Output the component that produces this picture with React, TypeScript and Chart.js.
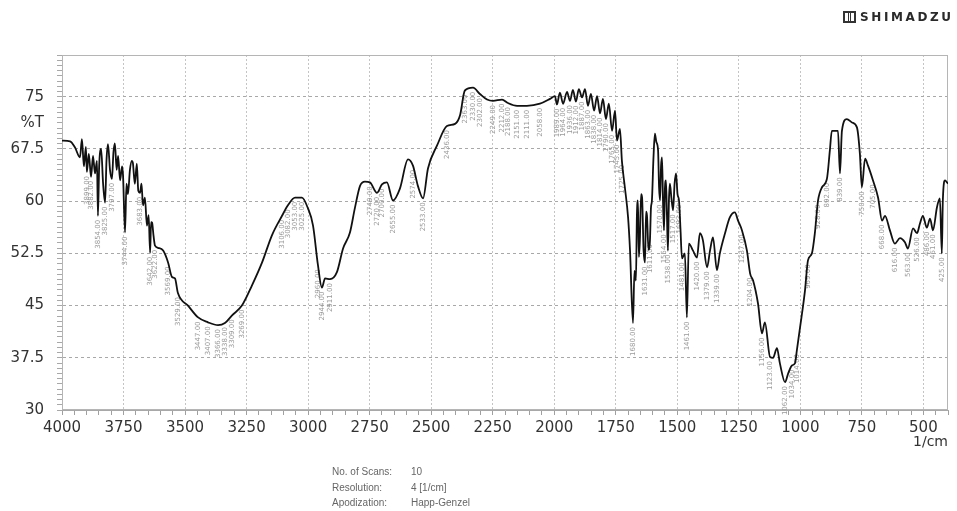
import React, { useEffect, useRef } from 'react';
import { Chart, registerables } from 'chart.js';

Chart.register(...registerables);

// ---- Data ----
const wavenumbers = [
  4000, 3967, 3947, 3927, 3919, 3911, 3903, 3899, 3891, 3882, 3874, 3866, 3858, 3854, 3849, 3841,
  3833, 3825, 3819, 3813, 3805, 3797, 3791, 3785, 3778, 3772, 3764, 3756, 3752, 3744, 3738, 3732,
  3724, 3716, 3712, 3704, 3696, 3690, 3683, 3677, 3671, 3663, 3655, 3648, 3642, 3638, 3634, 3628,
  3622, 3610, 3589, 3569, 3553, 3541,
  3529, 3488, 3447, 3407, 3366, 3338, 3309, 3269, 3228, 3187, 3147, 3106, 3082, 3053, 3025, 3001,
  2980, 2960, 2944, 2931, 2911, 2883, 2858, 2830, 2810, 2789, 2769, 2749, 2720, 2700, 2680, 2655,
  2627, 2594, 2574, 2554, 2533, 2513, 2476, 2436, 2403, 2383, 2363, 2330, 2302, 2273, 2249, 2212,
  2188, 2151, 2111, 2058, 2017, 1997, 1989, 1977, 1964, 1948, 1936, 1924, 1912, 1900, 1887, 1875,
  1863, 1851, 1838, 1826, 1814, 1802, 1790, 1778, 1765, 1753, 1745, 1733, 1725, 1713, 1700, 1692,
  1680, 1674, 1668, 1664, 1660, 1656, 1652, 1647, 1643, 1637, 1631, 1627, 1623, 1617, 1611, 1607,
  1603, 1597, 1591, 1585, 1578, 1574, 1570, 1566, 1562, 1558, 1554, 1550, 1546, 1542, 1538, 1534,
  1530, 1524, 1517, 1511, 1505, 1499, 1493, 1487, 1481, 1469, 1461, 1453, 1436, 1420, 1408, 1396,
  1379, 1367, 1355, 1339,
  1327, 1306, 1286, 1266, 1253, 1237, 1217, 1204, 1192, 1172, 1156, 1144, 1123, 1111, 1095, 1083,
  1062, 1050, 1034, 1022, 1014, 1001, 981, 969, 953, 941, 928, 912, 892, 880, 872, 847,
  839, 831, 811, 790, 770, 758, 750, 737, 725, 705, 684, 668, 656, 636, 616, 595,
  575, 563, 542, 526, 514, 502, 486, 473, 461, 445, 433, 425, 421, 412, 404, 400,
];

const transmittance = [
  68.7, 68.6, 67.7, 66.3, 68.9, 65.0, 67.8, 64.2, 66.8, 63.5, 66.5, 64.0, 65.8, 57.9, 65.0, 67.5,
  62.5, 59.8, 66.0, 68.2, 64.5, 63.2, 67.0, 68.3, 64.5, 66.5, 63.0, 65.0, 63.7, 55.5, 62.5, 61.0,
  64.5, 65.8, 65.5, 62.5, 65.4, 61.5, 61.2, 62.5, 59.4, 60.5, 56.5, 58.0, 52.6, 57.0, 56.9, 55.0,
  53.6, 53.3, 52.9, 51.2, 49.1, 48.9,
  46.8, 45.0, 43.3, 42.6, 42.2, 42.5, 43.6, 45.0, 47.9, 51.2, 55.1, 57.9, 59.4, 60.5, 60.5, 59.0,
  56.5, 50.8, 47.6, 48.9, 48.8, 49.8, 53.2, 55.5, 59.0, 62.2, 62.8, 62.7, 61.2, 62.4, 62.7, 60.1,
  61.8, 66.0, 65.1, 62.2, 60.4, 64.7, 68.0, 70.8, 71.1, 72.3, 75.9, 76.3, 75.4, 74.6, 74.4, 74.6,
  74.1, 73.7, 73.7, 74.0, 74.7, 75.1, 73.9, 75.6, 74.0, 75.7, 74.4, 76.0, 74.3, 76.1, 74.9, 76.1,
  73.7, 75.4, 73.0, 75.1, 72.6, 74.7, 71.8, 74.0, 70.1, 73.0, 68.7, 70.4, 65.8, 62.0, 57.7, 52.9,
  42.5, 50.0, 48.6, 58.0, 60.1, 52.0, 54.4, 61.0, 60.5, 53.0, 51.2, 58.5, 57.9, 53.0, 54.4, 59.0,
  60.1, 66.0, 69.7, 68.5, 67.3, 62.0, 60.1, 65.0, 66.3, 60.0, 55.8, 62.0, 63.0, 58.0, 52.9, 60.0,
  62.5, 60.5, 58.7, 62.5, 64.0, 61.0, 60.1, 56.0, 51.8, 52.5, 43.3, 53.9, 52.9, 51.9, 55.4, 54.4,
  50.5, 52.9, 54.8, 50.1,
  52.5, 55.4, 57.7, 58.4, 57.2, 55.8, 52.9, 49.6, 48.6, 45.3, 41.0, 42.6, 37.6, 37.5, 38.9, 36.7,
  34.0, 35.2, 36.4, 36.7, 38.6, 41.9, 47.2, 51.5, 52.5, 55.4, 60.1, 62.0, 63.2, 67.3, 70.1, 70.1,
  64.0, 70.1, 71.8, 71.3, 70.6, 66.8, 62.0, 66.1, 65.1, 63.0, 60.5, 57.2, 57.9, 55.8, 53.9, 54.7,
  54.1, 53.2, 56.1, 55.4, 56.8, 57.9, 56.2, 57.5, 55.8, 59.1, 60.4, 52.5, 60.1, 63.0, 62.7, 62.5,
];

// Peak picks labelled by the instrument software (wavenumbers, 1/cm)
const peakWavenumbers = [
  3899, 3882, 3854, 3825, 3797, 3744, 3683, 3642, 3622, 3569, 3529, 3447, 3407, 3366, 3338, 3309,
  3269, 3106, 3082, 3053, 3025, 2960, 2944, 2911, 2749, 2720, 2700, 2655, 2574, 2533, 2436, 2363,
  2330, 2302, 2249, 2212, 2188, 2151, 2111, 2058, 1989, 1964, 1936, 1912, 1887, 1863, 1838, 1814,
  1790, 1765, 1745, 1725, 1680, 1631, 1611, 1570, 1554, 1538, 1517, 1493, 1481, 1461, 1420, 1379,
  1339, 1237, 1204, 1156, 1123, 1062, 1034, 1014, 969, 928, 892, 839, 750, 705, 668, 616,
  563, 526, 486, 461, 425,
];

const xMajorTicks = [4000, 3750, 3500, 3250, 3000, 2750, 2500, 2250, 2000, 1750, 1500, 1250, 1000, 750, 500];
const yMajorTicks = [30, 37.5, 45, 52.5, 60, 67.5, 75];
const yUnitLabel = '%T';
const yUnitPosition = 71.25;
const xUnitLabel = '1/cm';
const scanInfoLabels = ['No. of Scans:', 'Resolution:', 'Apodization:'];
const scanInfoValues = ['10', '4 [1/cm]', 'Happ-Genzel'];
const brandName = 'SHIMADZU';

const X_MIN = 400;
const X_MAX = 4000;
const Y_MIN = 30;
const Y_MAX = 81;

const near = (a: number, b: number) => Math.abs(a - b) < 1e-6;

const framePlugin = {
  id: 'frame',
  beforeDatasetsDraw(chart: any) {
    const { ctx, chartArea } = chart;
    ctx.save();
    ctx.strokeStyle = '#b5b5b5';
    ctx.lineWidth = 1;
    ctx.strokeRect(chartArea.left + 0.5, chartArea.top + 0.5, chartArea.right - chartArea.left - 1, chartArea.bottom - chartArea.top - 1);
    ctx.restore();
  },
};

const peakLabelPlugin = {
  id: 'peakLabels',
  beforeDatasetsDraw(chart: any) {
    const { ctx } = chart;
    const xs = chart.scales.x;
    const ys = chart.scales.y;
    ctx.save();
    ctx.font = '7px "DejaVu Sans"';
    ctx.fillStyle = '#9a9a9a';
    ctx.textAlign = 'right';
    ctx.textBaseline = 'middle';
    peakWavenumbers.forEach((w) => {
      const idx = wavenumbers.indexOf(w);
      if (idx < 0) return;
      const px = xs.getPixelForValue(w);
      const py = ys.getPixelForValue(transmittance[idx]);
      ctx.save();
      ctx.translate(px, py + 4);
      ctx.rotate(-Math.PI / 2);
      ctx.fillText(w.toFixed(2), 0, 0);
      ctx.restore();
    });
    ctx.restore();
  },
};

export default function App() {
  const canvasRef = useRef<HTMLCanvasElement | null>(null);

  useEffect(() => {
    document.body.style.margin = '0';
    const canvas = canvasRef.current;
    if (!canvas) return;

    const xTickValues: number[] = [];
    for (let v = X_MAX; v >= X_MIN; v -= 50) xTickValues.push(v);
    const yTickValues: number[] = [];
    for (let i = 0; Y_MIN + i * 0.75 <= Y_MAX + 1e-9; i++) yTickValues.push(Math.round((Y_MIN + i * 0.75) * 100) / 100);

    const chart = new Chart(canvas, {
      type: 'line',
      data: {
        datasets: [
          {
            data: wavenumbers.map((w, i) => ({ x: w, y: transmittance[i] })),
            borderColor: '#111111',
            borderWidth: 1.8,
            pointRadius: 0,
            fill: false,
            cubicInterpolationMode: 'monotone',
          },
        ],
      },
      options: {
        responsive: false,
        animation: false,
        maintainAspectRatio: false,
        layout: { padding: { left: 0, right: 9, top: 55, bottom: 71 } },
        plugins: { legend: { display: false }, tooltip: { enabled: false } },
        scales: {
          x: {
            type: 'linear',
            reverse: true,
            min: X_MIN,
            max: X_MAX,
            afterBuildTicks: (scale: any) => {
              scale.ticks = xTickValues.map((v) => ({ value: v }));
            },
            afterFit: (scale: any) => {
              scale.height = 30;
            },
            ticks: {
              autoSkip: false,
              maxRotation: 0,
              minRotation: 0,
              padding: 4,
              color: '#333333',
              font: { family: '"DejaVu Sans"', size: 15 },
              callback: (v: any) => (xMajorTicks.some((t) => near(t, Number(v))) ? String(v) : ''),
            },
            grid: {
              color: (c: any) => (xMajorTicks.some((t) => near(t, c.tick?.value)) ? '#c4c4c4' : 'rgba(0,0,0,0)'),
              tickColor: '#a0a0a0',
              tickLength: 5,
              lineWidth: 1,
            },
            border: { display: true, color: '#a8a8a8', dash: [2, 2] },
          },
          y: {
            type: 'linear',
            min: Y_MIN,
            max: Y_MAX,
            afterBuildTicks: (scale: any) => {
              scale.ticks = yTickValues.map((v) => ({ value: v }));
            },
            afterFit: (scale: any) => {
              scale.width = 62;
            },
            ticks: {
              autoSkip: false,
              padding: 13,
              color: '#333333',
              font: { family: '"DejaVu Sans"', size: 15 },
              callback: (v: any) => {
                const n = Number(v);
                if (near(n, yUnitPosition)) return yUnitLabel;
                return yMajorTicks.some((t) => near(t, n)) ? String(n) : '';
              },
            },
            grid: {
              color: (c: any) => (yMajorTicks.some((t) => near(t, c.tick?.value)) ? '#a8a8a8' : 'rgba(0,0,0,0)'),
              tickColor: '#a8a8a8',
              tickLength: 5,
              lineWidth: 1,
            },
            border: { display: true, color: '#a8a8a8', dash: [3, 3] },
          },
        },
      },
      plugins: [framePlugin, peakLabelPlugin],
    } as any);

    return () => chart.destroy();
  }, []);

  return (
    <div style={{ position: 'relative', width: 957, height: 511, overflow: 'hidden', background: '#ffffff' }}>
      <canvas ref={canvasRef} width={957} height={511} style={{ width: 957, height: 511, display: 'block' }} />
      <div
        style={{
          position: 'absolute',
          left: 843,
          top: 10,
          display: 'flex',
          alignItems: 'center',
          whiteSpace: 'nowrap',
          fontFamily: '"DejaVu Sans", sans-serif',
          fontWeight: 'bold',
          fontSize: 12,
          letterSpacing: 2.6,
          color: '#2a2a2a',
        }}
      >
        <span
          style={{
            display: 'inline-block',
            width: 9,
            height: 8,
            border: '2px solid #333',
            marginRight: 4,
            background: 'linear-gradient(90deg, #fff 0 30%, #333 30% 45%, #fff 45% 55%, #333 55% 70%, #fff 70%)',
          }}
        />
        <span>{brandName}</span>
      </div>
      <div
        style={{
          position: 'absolute',
          right: 9,
          top: 433,
          fontFamily: '"DejaVu Sans", sans-serif',
          fontSize: 14,
          color: '#333',
        }}
      >
        {xUnitLabel}
      </div>
      {scanInfoLabels.map((label, i) => (
        <div
          key={label}
          style={{
            position: 'absolute',
            left: 332,
            top: 466 + i * 15.5,
            fontFamily: '"Liberation Sans", Arial, sans-serif',
            fontSize: 10,
            color: '#666',
            whiteSpace: 'nowrap',
          }}
        >
          <span>{label}</span>
          <span style={{ position: 'absolute', left: 79 }}>{scanInfoValues[i]}</span>
        </div>
      ))}
    </div>
  );
}
